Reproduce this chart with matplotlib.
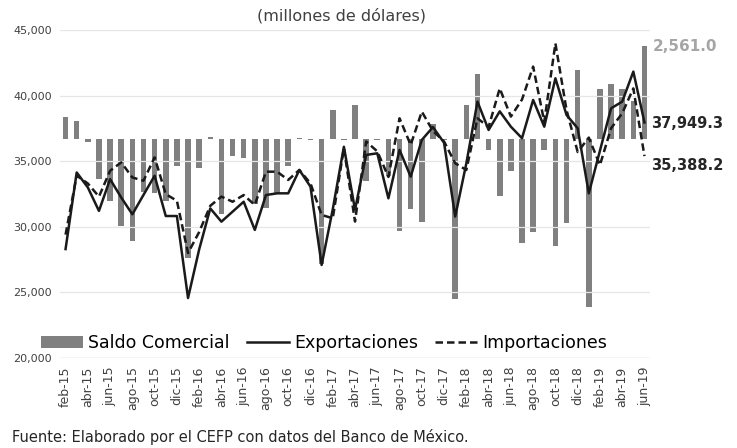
import numpy as np
import matplotlib.pyplot as plt

meses = ["feb-15", "mar-15", "abr-15", "may-15", "jun-15", "jul-15", "ago-15", "sep-15",
         "oct-15", "nov-15", "dic-15", "ene-16", "feb-16", "mar-16", "abr-16", "may-16",
         "jun-16", "jul-16", "ago-16", "sep-16", "oct-16", "nov-16", "dic-16", "ene-17",
         "feb-17", "mar-17", "abr-17", "may-17", "jun-17", "jul-17", "ago-17", "sep-17",
         "oct-17", "nov-17", "dic-17", "ene-18", "feb-18", "mar-18", "abr-18", "may-18",
         "jun-18", "jul-18", "ago-18", "sep-18", "oct-18", "nov-18", "dic-18", "ene-19",
         "feb-19", "mar-19", "abr-19", "may-19", "jun-19"]

exportaciones = [28300, 34140, 33000, 31210, 33630, 32230, 30950, 32430, 33890, 30820,
                 30820, 24570, 28270, 31400, 30390, 31150, 31910, 29760, 32420, 32550,
                 32550, 34330, 33060, 27090, 31330, 36100, 31300, 35480, 35600, 32170,
                 35860, 33820, 36620, 37600, 36400, 30780, 34840, 39540, 37380, 38800,
                 37630, 36750, 39670, 37630, 41320, 38520, 37510, 32550, 35800, 39030,
                 39540, 41830, 37949.3]

importaciones = [29400, 33900, 33300, 32300, 34270, 34910, 33760, 33510, 35290, 32490,
                 31980, 28000, 29600, 31600, 32300, 31910, 32420, 31660, 34200, 34200,
                 33570, 34330, 33310, 30900, 30650, 35980, 30400, 36500, 35750, 33800,
                 38270, 36240, 38780, 37300, 36500, 34840, 34330, 38270, 37600, 40550,
                 38400, 39700, 42210, 38000, 43980, 38900, 35700, 36800, 34700, 37510,
                 38650, 40550, 35388.2]

saldo = [600, 500, -60, -1100, -1700, -2380, -2800, -1440, -1480, -1690,
         -730, -3250, -780, 70, -2060, -460, -500, -1780, -1880, -1460,
         -730, 50, -20, -3430, 800, -20, 930, -1140, -10, -1010,
         -2520, -1920, -2270, 410, -10, -4390, 930, 1780, -290, -1560,
         -870, -2850, -2540, -290, -2930, -2300, 1900, -4590, 1370, 1510,
         1390, 1050, 2561.0]

x = np.arange(len(meses))

fig = plt.figure(figsize=(7.37, 4.48), dpi=100)
ax = fig.add_axes([0.0814, 0.201, 0.8006, 0.732])
ax2 = ax.twinx()

barras = ax2.bar(x, saldo, width=0.5, color="#808080", label="Saldo Comercial")
l1, = ax.plot(x, exportaciones, color="#1a1a1a", lw=1.8, label="Exportaciones")
l2, = ax.plot(x, importaciones, color="#1a1a1a", lw=1.8, ls=(0, (3, 1.6)),
              label="Importaciones")

# lineas por encima de las barras
ax.set_zorder(ax2.get_zorder() + 1)
ax.patch.set_visible(False)

ax.set_ylim(20000, 45000)
ax2.set_ylim(-6000, 3000)
ax.set_xlim(-0.5, len(meses) - 0.5)

ax.set_yticks([20000, 25000, 30000, 35000, 40000, 45000])
ax.set_yticklabels(["20,000", "25,000", "30,000", "35,000", "40,000", "45,000"],
                   fontsize=8, color="#404040")
ax.set_xticks(x[::2])
ax.set_xticklabels(meses[::2], rotation=90, fontsize=9, color="#404040")
ax.tick_params(length=0, pad=6)
ax2.set_yticks([])
ax.yaxis.grid(True, color="#e6e6e6", lw=0.9)
for a in (ax, ax2):
    for s in a.spines.values():
        s.set_visible(False)
ax.axhline(20000, color="#d0d0d0", lw=0.9)

ax2.annotate("2,561.0", xy=(x[-1], saldo[-1]), xytext=(6, 0), textcoords="offset points",
             va="center", fontsize=11, color="#a6a6a6", fontweight="bold")
ax.annotate("37,949.3", xy=(x[-1], exportaciones[-1]), xytext=(5, -1), textcoords="offset points",
            va="center", fontsize=10.5, color="#262626", fontweight="bold")
ax.annotate("35,388.2", xy=(x[-1], importaciones[-1]), xytext=(5, -7), textcoords="offset points",
            va="center", fontsize=10.5, color="#262626", fontweight="bold")

fig.legend([barras, l1, l2], ["Saldo Comercial", "Exportaciones", "Importaciones"],
           loc="center", bbox_to_anchor=(0.44, 0.234), ncol=3, frameon=False,
           fontsize=12.5, handlelength=2.4, handletextpad=0.3, columnspacing=1.0)

fig.text(0.464, 0.964, "(millones de dólares)", ha="center", va="center",
         fontsize=11.5, color="#404040")
fig.text(0.016, 0.025, "Fuente: Elaborado por el CEFP con datos del Banco de México.",
         fontsize=10.5, color="#262626", va="center")

fig.savefig("out.png", dpi=100)
